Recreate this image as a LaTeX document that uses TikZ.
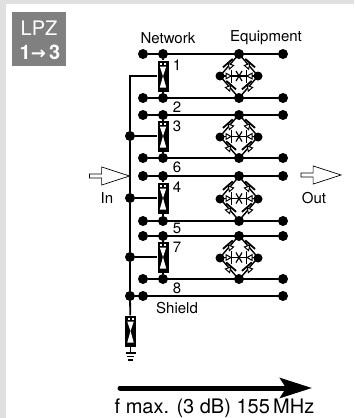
\documentclass[tikz,border=0pt]{standalone}
\usepackage{fontspec}
\setmainfont{TeX Gyre Heros}
\newfontfamily\arrowfont{DejaVu Sans}
\usetikzlibrary{arrows.meta, shapes.arrows}

\definecolor{pagegrey}{HTML}{E0E0E0}
\definecolor{tabgrey}{HTML}{808080}

\tikzset{
  dot/.style={circle, fill=black, minimum size=10pt, inner sep=0pt},
  wire/.style={line width=1.8pt},
  label/.style={font=\fontsize{15}{17}\selectfont, inner sep=0pt},
  hollow/.style={single arrow, draw, fill=white, line width=0.7pt, inner sep=1.6pt, minimum height=40pt,
    minimum width=13pt, single arrow tip angle=36, single arrow head indent=0pt},
  surge/.style={rectangle, fill=black, minimum width=11pt, minimum height=31pt, inner sep=0pt, path picture={
    \fill[white] ([shift={(-3,2)}]path picture bounding box.north) rectangle +(2,2);
    \fill[white] ([shift={(1,2)}]path picture bounding box.north) rectangle +(2,2);
    \fill[white] ([shift={(-3.2,6)}]path picture bounding box.north) -- ++(6.4,0) -- (path picture bounding box.center)
      -- ([shift={(3.2,-4)}]path picture bounding box.south) -- ++(-6.4,0) -- (path picture bounding box.center) -- cycle;
  }},
  diode/.pic={
    \draw[line width=1pt, fill=white] (-3,-2.8) -- (2,0) -- (-3,2.8) -- cycle;
    \draw[line width=1.8pt] (2.5,-6.5) -- (2.5,6.5);
  },
  bridge/.pic={
    \draw[line width=1.4pt] (0,-22) -- (-19,0) -- (0,22) -- (19,0) -- cycle;
    \draw[line width=1.6pt] (-19,0) -- (19,0);
    \pic[rotate=131] at (-9.5,-11) {diode};
    \pic[rotate=49] at (-9.5,11) {diode};
    \pic[rotate=131] at (9.5,11) {diode};
    \pic[rotate=49] at (9.5,-11) {diode};
    \pic[rotate=0] at (-10,0) {diode};
    \pic[rotate=180] at (10,0) {diode};
    \draw[line width=1.2pt] (-3,-5) -- (3,5) (3,-5) -- (-3,5);
  }
}

\begin{document}
\begin{tikzpicture}[x=1pt, y=-1pt]
  \useasboundingbox (0,0) rectangle (354,418);
  \fill[pagegrey] (0,0) rectangle (354,418);
  \fill[white] (6,4) rectangle (354,418);

  % Tab
  \node[fill=tabgrey, minimum size=54pt, inner sep=0pt] at (39,39) (tab) {};
  \node[text=white, inner sep=0pt, font=\fontsize{20}{22}\selectfont] at (39,28.5) (lpz) {LPZ};
  \node[text=white, inner sep=0pt, font=\fontsize{20}{22}\selectfont\bfseries] at (40,52) (zones) {1{\arrowfont\fontsize{18}{20}\selectfont→}\,3};

  % Left ends
  \node[dot] at (143, 54) (la) {};
  \node[dot] at (143, 98) (lb) {};
  \node[dot] at (143, 115) (lc) {};
  \node[dot] at (143, 158) (ld) {};
  \node[dot] at (143, 176) (le) {};
  \node[dot] at (143, 221) (lf) {};
  \node[dot] at (143, 236) (lg) {};
  \node[dot] at (143, 279) (lh) {};
  \node[dot] at (143, 296) (li) {};

  % Network side
  \node[dot] at (163, 54) (na) {};
  \node[dot] at (163, 98) (nb) {};
  \node[dot] at (163, 115) (nc) {};
  \node[dot] at (163, 158) (nd) {};
  \node[dot] at (163, 176) (ne) {};
  \node[dot] at (163, 221) (nf) {};
  \node[dot] at (163, 236) (ng) {};
  \node[dot] at (163, 279) (nh) {};

  % Right ends
  \node[dot] at (283, 54) (ra) {};
  \node[dot] at (283, 98) (rb) {};
  \node[dot] at (283, 115) (rc) {};
  \node[dot] at (283, 158) (rd) {};
  \node[dot] at (283, 176) (re) {};
  \node[dot] at (283, 221) (rf) {};
  \node[dot] at (283, 236) (rg) {};
  \node[dot] at (283, 279) (rh) {};
  \node[dot] at (283, 296) (ri) {};

  % Bus
  \coordinate (bustop) at (130, 77);
  \node[dot] at (130, 136) (bb) {};
  \node[dot] at (130, 198) (bc) {};
  \node[dot] at (130, 257) (bd) {};
  \node[dot] at (130, 296) (be) {};

  % Arresters
  \node[surge] at (163, 76) (sa) {};
  \node[surge] at (163, 136) (sb) {};
  \node[surge] at (163, 198) (sc) {};
  \node[surge] at (163, 257) (sd) {};
  \node[surge] at (130.5, 331) (se) {};

  \draw[wire] (la) edge (ra);
  \draw[wire] (lb) edge (rb);
  \draw[wire] (lc) edge (rc);
  \draw[wire] (ld) edge (rd);
  \draw[wire] (le) edge (re);
  \draw[wire] (lf) edge (rf);
  \draw[wire] (lg) edge (rg);
  \draw[wire] (lh) edge (rh);
  \draw[wire] (be) edge (ri);

  \draw[wire] (na) edge (sa);
  \draw[wire] (nb) edge (sa);
  \draw[wire] (nc) edge (sb);
  \draw[wire] (nd) edge (sb);
  \draw[wire] (ne) edge (sc);
  \draw[wire] (nf) edge (sc);
  \draw[wire] (ng) edge (sd);
  \draw[wire] (nh) edge (sd);

  \draw[wire] (sa) -- (sa -| bustop) -- (bb);
  \draw[wire] (bb) edge (sb);
  \draw[wire] (bc) edge (sc);
  \draw[wire] (bd) edge (sd);
  \draw[wire] (bb) edge (bc);
  \draw[wire] (bc) edge (bd);
  \draw[wire] (bd) edge (be);
  \draw[wire] (be) edge (se);

  % Earth
  \coordinate (earth) at (130.5, 353);
  \draw[wire] (se) -- (earth);
  \draw[line width=2pt] (125.5, 353) -- (135.5, 353);
  \draw[line width=1.8pt] (127, 356.5) -- (134, 356.5);
  \draw[line width=1.6pt] (128, 360) -- (133, 360);

  % Equipment side
  \pic at (239, 76) {bridge};
  \pic at (239, 136.5) {bridge};
  \pic at (239, 198.5) {bridge};
  \pic at (239, 257.5) {bridge};

  \node[dot] at (239, 54) (ea) {};
  \node[dot] at (239, 98) (eb) {};
  \node[dot] at (239, 115) (ec) {};
  \node[dot] at (239, 158) (ed) {};
  \node[dot] at (239, 176) (ee) {};
  \node[dot] at (239, 221) (ef) {};
  \node[dot] at (239, 236) (eg) {};
  \node[dot] at (239, 279) (eh) {};
  \node[dot, minimum size=9pt] at (220, 76) (wa) {};
  \node[dot, minimum size=9pt] at (258, 76) (oa) {};
  \node[dot, minimum size=9pt] at (220, 137) (wb) {};
  \node[dot, minimum size=9pt] at (258, 137) (ob) {};
  \node[dot, minimum size=9pt] at (220, 199) (wc) {};
  \node[dot, minimum size=9pt] at (258, 199) (oc) {};
  \node[dot, minimum size=9pt] at (220, 258) (wd) {};
  \node[dot, minimum size=9pt] at (258, 258) (od) {};

  % Labels
  \node[label] at (168, 38) (network) {Network};
  \node[label] at (266, 38) (equipment) {Equipment};
  \node[label] at (177, 65) (na1) {1};
  \node[label] at (177, 107) (na2) {2};
  \node[label] at (177, 126) (na3) {3};
  \node[label] at (177, 167) (na6) {6};
  \node[label] at (177, 187) (na4) {4};
  \node[label] at (177, 228) (na5) {5};
  \node[label] at (177, 247) (na7) {7};
  \node[label] at (177, 288) (na8) {8};
  \node[label] at (177, 308) (shield) {Shield};
  \node[label] at (107, 198) (in) {In};
  \node[label] at (314, 198) (out) {Out};

  % Flow arrows
  \node[hollow] at (106.5, 176) (inarrow) {};
  \node[hollow] at (318, 175) (outarrow) {};

  % Bandwidth
  \coordinate (fstart) at (120, 388);
  \coordinate (fend) at (312, 388);
  \draw[line width=5pt, line cap=round, -{Stealth[length=32pt, width=20pt, inset=6pt]}] (fstart) -- (fend);
  \node[inner sep=0pt, font=\fontsize{20}{22}\selectfont] at (214.5, 408) (fmax) {f max. (3 dB) 155\,MHz};
\end{tikzpicture}
\end{document}
